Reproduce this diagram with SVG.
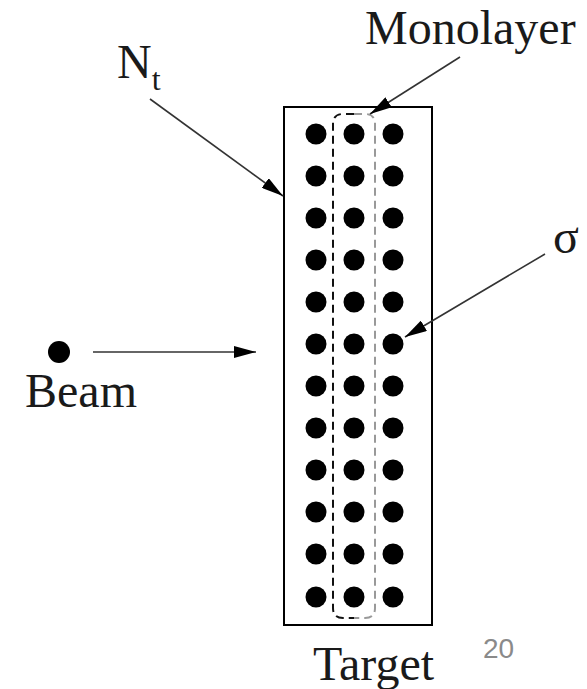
<svg xmlns="http://www.w3.org/2000/svg" width="587" height="689" viewBox="0 0 587 689">
<style>
.lbl{font-size:48px;fill:#1a1a1a}
.arr{stroke:#333;stroke-width:1.6;fill:none;marker-end:url(#ah)}
.dot{fill:#000}
</style>
<defs>
<marker id="ah" viewBox="0 0 22 12" refX="22" refY="6" markerWidth="22" markerHeight="12" markerUnits="userSpaceOnUse" orient="auto">
<path d="M0,0 L22,6 L0,12 z" fill="#000"/>
</marker>
</defs>
<rect width="587" height="689" fill="#fff"/>
<g id="target">
<rect x="284" y="107" width="148" height="518" fill="none" stroke="#000" stroke-width="2"/>
<g id="dots">
<circle class="dot" cx="316" cy="134" r="10.5"/><circle class="dot" cx="354" cy="134" r="10.5"/><circle class="dot" cx="393" cy="134" r="10.5"/>
<circle class="dot" cx="316" cy="176" r="10.5"/><circle class="dot" cx="354" cy="176" r="10.5"/><circle class="dot" cx="393" cy="176" r="10.5"/>
<circle class="dot" cx="316" cy="218" r="10.5"/><circle class="dot" cx="354" cy="218" r="10.5"/><circle class="dot" cx="393" cy="218" r="10.5"/>
<circle class="dot" cx="316" cy="260" r="10.5"/><circle class="dot" cx="354" cy="260" r="10.5"/><circle class="dot" cx="393" cy="260" r="10.5"/>
<circle class="dot" cx="316" cy="302" r="10.5"/><circle class="dot" cx="354" cy="302" r="10.5"/><circle class="dot" cx="393" cy="302" r="10.5"/>
<circle class="dot" cx="316" cy="344" r="10.5"/><circle class="dot" cx="354" cy="344" r="10.5"/><circle class="dot" cx="393" cy="344" r="10.5"/>
<circle class="dot" cx="316" cy="386" r="10.5"/><circle class="dot" cx="354" cy="386" r="10.5"/><circle class="dot" cx="393" cy="386" r="10.5"/>
<circle class="dot" cx="316" cy="428" r="10.5"/><circle class="dot" cx="354" cy="428" r="10.5"/><circle class="dot" cx="393" cy="428" r="10.5"/>
<circle class="dot" cx="316" cy="470" r="10.5"/><circle class="dot" cx="354" cy="470" r="10.5"/><circle class="dot" cx="393" cy="470" r="10.5"/>
<circle class="dot" cx="316" cy="512" r="10.5"/><circle class="dot" cx="354" cy="512" r="10.5"/><circle class="dot" cx="393" cy="512" r="10.5"/>
<circle class="dot" cx="316" cy="554" r="10.5"/><circle class="dot" cx="354" cy="554" r="10.5"/><circle class="dot" cx="393" cy="554" r="10.5"/>
<circle class="dot" cx="316" cy="597" r="10.5"/><circle class="dot" cx="354" cy="597" r="10.5"/><circle class="dot" cx="393" cy="597" r="10.5"/>
</g>
<text class="lbl" font-family="'Liberation Serif', serif" x="313" y="680">Target</text>
</g>
<g id="monolayer">
<path d="M354,114 L343,114 Q333,114 333,124 L333,608 Q333,618 343,618 L354,618" fill="none" stroke="#111" stroke-width="2" stroke-dasharray="8,5"/>
<path d="M354,114 L365,114 Q375,114 375,124 L375,608 Q375,618 365,618 L354,618" fill="none" stroke="#999" stroke-width="2" stroke-dasharray="8,5"/>
<text class="lbl" font-family="'Liberation Serif', serif" x="365" y="44">Monolayer</text>
</g>
<g id="nt">
<text class="lbl" font-family="'Liberation Serif', serif" x="117" y="78">N<tspan font-size="32" dy="12">t</tspan></text>
</g>
<g id="sigma">
<text class="lbl" font-family="'Liberation Serif', serif" x="553" y="253">σ</text>
</g>
<g id="beam">
<circle cx="59" cy="352" r="11" fill="#000"/>
<text class="lbl" font-family="'Liberation Serif', serif" x="25" y="407">Beam</text>
</g>
<g id="page">
<text x="483" y="658" font-family="'Liberation Sans', sans-serif" font-size="28" fill="#8a8a8a">20</text>
</g>
<g id="connectors">
<line class="arr" x1="460" y1="57" x2="370" y2="114"/>
<line class="arr" x1="150" y1="99" x2="283" y2="196"/>
<line class="arr" x1="545" y1="254" x2="405" y2="337"/>
<line class="arr" x1="93" y1="352" x2="256" y2="352"/>
</g>
</svg>
